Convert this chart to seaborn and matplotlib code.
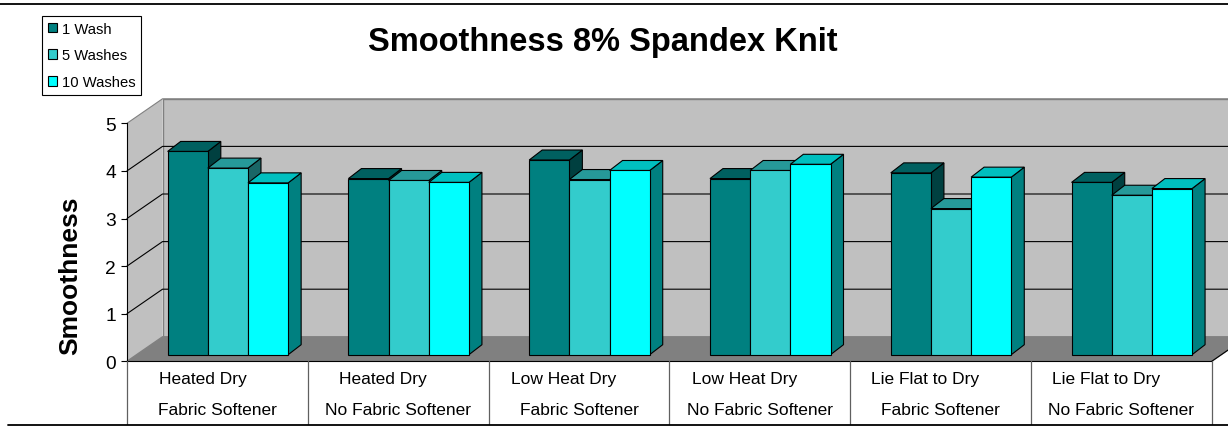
import numpy as np
import pandas as pd
import matplotlib
matplotlib.use("Agg")
import matplotlib.pyplot as plt
import seaborn as sns
from matplotlib.patches import Polygon
from matplotlib.lines import Line2D
from matplotlib.transforms import IdentityTransform, ScaledTranslation
from matplotlib.colors import to_rgb

# ---------------- data ----------------
categories_line1 = ["Heated Dry", "Heated Dry", "Low Heat Dry", "Low Heat Dry",
                    "Lie Flat to Dry", "Lie Flat to Dry"]
categories_line2 = ["Fabric Softener", "No Fabric Softener", "Fabric Softener",
                    "No Fabric Softener", "Fabric Softener", "No Fabric Softener"]
series_names = ["1 Wash", "5 Washes", "10 Washes"]
wash_1 = [4.27, 3.70, 4.09, 3.70, 3.82, 3.62]
wash_5 = [3.92, 3.66, 3.68, 3.87, 3.07, 3.35]
wash_10 = [3.61, 3.62, 3.87, 4.00, 3.73, 3.49]
y_ticks = [0, 1, 2, 3, 4, 5]
title_text = "Smoothness 8% Spandex Knit"
y_label = "Smoothness"
series_colors = ["#008080", "#33CCCC", "#00FFFF"]

# ---------------- setup ----------------
W, H, DPI = 1228, 427, 100
sns.set_theme(style="white")
plt.rcParams['font.family'] = ['Liberation Sans', 'DejaVu Sans']

fig = plt.figure(figsize=(W / DPI, H / DPI), dpi=DPI)
fig.patch.set_facecolor("white")
X0, X1 = 127.0, 1211.7      # front plane left/right (px)
Y0, Y5 = 362.3, 124.3       # value 0 / value 5 (px from top)
ax = fig.add_axes([X0 / W, (H - Y0) / H, (X1 - X0) / W, (Y0 - Y5) / H])
ax.set_facecolor("none")

cat_keys = [a + " | " + b for a, b in zip(categories_line1, categories_line2)]
df = pd.DataFrame({
    "category": cat_keys * 3,
    "series": np.repeat(series_names, len(cat_keys)),
    "value": wash_1 + wash_5 + wash_10,
})

sns.barplot(data=df, x="category", y="value", hue="series", order=cat_keys,
            hue_order=series_names, palette=series_colors, saturation=1,
            width=2 / 3, edgecolor="black", linewidth=0.8, errorbar=None, ax=ax)

ax.set_xlim(-0.5, 5.5)
ax.set_ylim(0, 5)
ax.set_xticks([])
ax.set_xlabel("")
ax.set_ylabel("")
ax.set_yticks(y_ticks)
ax.set_yticklabels([str(t) for t in y_ticks])
ax.tick_params(axis="y", left=True, direction="out", length=4.3, width=0.8,
               pad=3.6, labelsize=13.8, colors="black", labelcolor="black")
for s in ["top", "right"]:
    ax.spines[s].set_visible(False)
for s in ["left", "bottom"]:
    ax.spines[s].set_visible(True)
    ax.spines[s].set_color("black")
    ax.spines[s].set_linewidth(0.8)

handles, labels = ax.get_legend_handles_labels()
if ax.get_legend() is not None:
    ax.get_legend().remove()

# ---------------- 3D-like frame ----------------
IDT = IdentityTransform()
BAR_DX, BAR_DY = 10.5, 6.6     # bar front plane offset from front axis (px)
DEP_DX, DEP_DY = 13.0, 10.0    # bar depth (px)
WALL_DX, WALL_DY = 35.5, 24.5  # back wall offset (px)


def disp(x, y, dx=0.0, dy=0.0):
    p = ax.transData.transform((x, y))
    return (p[0] + dx, p[1] + dy)


wall_col = "#C0C0C0"
floor_col = "#808080"
edge_gray = "#808080"

# side wall
side = [disp(-0.5, 0), disp(-0.5, 5), disp(-0.5, 5, WALL_DX, WALL_DY),
        disp(-0.5, 0, WALL_DX, WALL_DY)]
ax.add_patch(Polygon(side, closed=True, facecolor=wall_col, edgecolor="none",
                     transform=IDT, clip_on=False, zorder=0.1))
# back wall
back = [disp(-0.5, 0, WALL_DX, WALL_DY), disp(5.5, 0, WALL_DX, WALL_DY),
        disp(5.5, 5, WALL_DX, WALL_DY), disp(-0.5, 5, WALL_DX, WALL_DY)]
ax.add_patch(Polygon(back, closed=True, facecolor=wall_col, edgecolor=edge_gray,
                     linewidth=1.0, transform=IDT, clip_on=False, zorder=0.1))
# floor
floor = [disp(-0.5, 0), disp(5.5, 0), disp(5.5, 0, WALL_DX, WALL_DY),
         disp(-0.5, 0, WALL_DX, WALL_DY)]
ax.add_patch(Polygon(floor, closed=True, facecolor=floor_col, edgecolor=edge_gray,
                     linewidth=1.0, transform=IDT, clip_on=False, zorder=0.2))
# right floor edge in black
fr = [disp(5.5, 0), disp(5.5, 0, WALL_DX, WALL_DY)]
ax.add_line(Line2D([fr[0][0], fr[1][0]], [fr[0][1], fr[1][1]], color="black",
                   lw=0.8, transform=IDT, clip_on=False, zorder=0.3))

# gridlines
for v in y_ticks[1:]:
    a = disp(-0.5, v)
    b = disp(-0.5, v, WALL_DX, WALL_DY)
    c = disp(5.5, v, WALL_DX, WALL_DY)
    col = "black" if v < 5 else edge_gray
    ax.add_line(Line2D([a[0], b[0], c[0]], [a[1], b[1], c[1]], color=col,
                       lw=0.8, transform=IDT, clip_on=False, zorder=0.3))

# ---------------- bars with 3D top / side ----------------
bars = sorted([p for p in ax.patches if hasattr(p, "get_width") and p.get_height() > 0],
              key=lambda p: p.get_x())
shift = ScaledTranslation(BAR_DX / DPI, BAR_DY / DPI, fig.dpi_scale_trans)
for i, p in enumerate(bars):
    z = 3 + i
    x0, w, h = p.get_x(), p.get_width(), p.get_height()
    rgb = np.array(to_rgb(p.get_facecolor()))
    fl = disp(x0, 0, BAR_DX, BAR_DY)
    tr = disp(x0 + w, h, BAR_DX, BAR_DY)
    top = [(fl[0], tr[1]), (tr[0], tr[1]), (tr[0] + DEP_DX, tr[1] + DEP_DY),
           (fl[0] + DEP_DX, tr[1] + DEP_DY)]
    sidef = [(tr[0], fl[1]), (tr[0], tr[1]), (tr[0] + DEP_DX, tr[1] + DEP_DY),
             (tr[0] + DEP_DX, fl[1] + DEP_DY)]
    ax.add_patch(Polygon(sidef, closed=True, facecolor=rgb * 0.5, edgecolor="black",
                         linewidth=0.8, transform=IDT, clip_on=False, zorder=z - 0.4,
                         joinstyle="miter"))
    ax.add_patch(Polygon(top, closed=True, facecolor=rgb * 0.75, edgecolor="black",
                         linewidth=0.8, transform=IDT, clip_on=False, zorder=z - 0.3,
                         joinstyle="miter"))
    p.set_transform(ax.transData + shift)
    p.set_zorder(z)
    p.set_clip_on(False)

# ---------------- category table ----------------
tbl_top, tbl_bot = Y0, 425.0
for i in range(len(cat_keys) + 1):
    xd = disp(i - 0.5, 0)[0]
    fig.add_artist(Line2D([xd / W, xd / W], [1 - tbl_top / H, 1 - tbl_bot / H],
                          transform=fig.transFigure, color="#606060", lw=0.9))
for i, (l1, l2) in enumerate(zip(categories_line1, categories_line2)):
    xd = disp(i, 0)[0]
    fig.text((xd - 15) / W, 1 - 380 / H, l1, ha="center", va="center",
             fontsize=12.5, color="black")
    fig.text(xd / W, 1 - 411 / H, l2, ha="center", va="center",
             fontsize=12.5, color="black")

# ---------------- texts, legend, borders ----------------
fig.text(603 / W, 1 - 43 / H, title_text, ha="center", va="center",
         fontsize=23.5, fontweight="bold", color="black")
fig.text(70.5 / W, 1 - 276 / H, y_label, ha="center", va="center", rotation=90,
         fontsize=19, fontweight="bold", color="black")

leg = fig.legend(handles, labels, loc="upper left",
                 bbox_to_anchor=(41.7 / W, 1 - 16.7 / H), frameon=True,
                 fontsize=10.6, handlelength=0.65, handleheight=0.65,
                 handletextpad=0.3, labelspacing=0.87, borderpad=0.4,
                 borderaxespad=0, fancybox=False, framealpha=1, edgecolor="black")
leg.get_frame().set_linewidth(0.8)
for t in leg.get_texts():
    t.set_color("black")

fig.add_artist(Line2D([0, 1], [1 - 4.5 / H] * 2, transform=fig.transFigure,
                      color="black", lw=1.3))
fig.add_artist(Line2D([8 / W, 1], [1 - 425.5 / H] * 2, transform=fig.transFigure,
                      color="black", lw=1.3))

fig.savefig("out.png", dpi=DPI, facecolor="white")
